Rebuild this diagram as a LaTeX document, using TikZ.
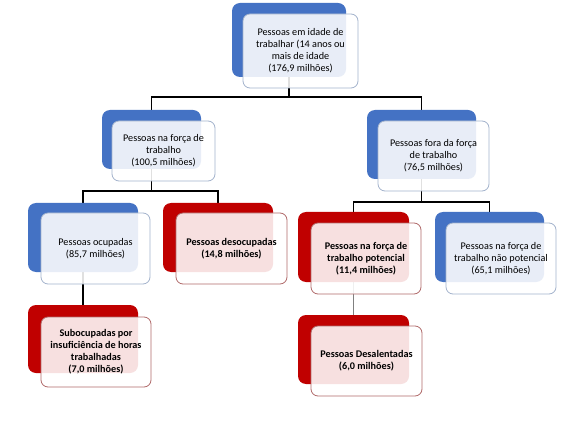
\documentclass[tikz,border=0pt]{standalone}
\usepackage{fontspec}
\setmainfont{Carlito}
\pgfdeclarelayer{edgelayer}
\pgfdeclarelayer{backlayer}
\pgfsetlayers{backlayer,edgelayer,main}
\begin{document}
\begin{tikzpicture}[x=1pt,y=-1pt,
  back/.style={rounded corners=8pt,inner sep=0pt,draw=none},
  backblue/.style={back,fill=bblue},
  backred/.style={back,fill=bred},
  front/.style={rounded corners=7pt,inner sep=0pt,line width=0.8pt,fill=white,fill opacity=0.88,text opacity=1,align=center,font=\fontsize{10.2}{12}\selectfont},
  frontblue/.style={front,draw=fblue},
  frontred/.style={front,draw=fred,font=\fontsize{10.2}{12}\selectfont\bfseries},
  edge/.style={line width=1.2pt,black},
  thinedge/.style={line width=0.9pt,gray}
]
\definecolor{bblue}{HTML}{4472C4}
\definecolor{bred}{HTML}{C00000}
\definecolor{fblue}{HTML}{A3B3CC}
\definecolor{fred}{HTML}{B06A6A}
\begin{pgfonlayer}{backlayer}
\fill[white] (0,0) rectangle (580,430);
\end{pgfonlayer}
\useasboundingbox (0,0) rectangle (580,430);
% back boxes
\node[backblue,minimum width=114pt,minimum height=74pt] (topB) at (289,40) {};
\node[backblue,minimum width=99pt,minimum height=59pt] (lmB) at (151.5,139.5) {};
\node[backblue,minimum width=109pt,minimum height=69pt] (rmB) at (421.5,144.5) {};
\node[backblue,minimum width=110pt,minimum height=69pt] (ocB) at (83,237.5) {};
\node[backred,minimum width=110pt,minimum height=69pt] (deB) at (218,237.5) {};
\node[backred,minimum width=111pt,minimum height=70pt] (poB) at (353.5,247) {};
\node[backblue,minimum width=109pt,minimum height=70pt] (npB) at (489.5,247) {};
\node[backred,minimum width=110pt,minimum height=68pt] (suB) at (83,339) {};
\node[backred,minimum width=111pt,minimum height=69pt] (daB) at (353.5,349.5) {};
% front boxes
\node[frontblue,minimum width=115pt,minimum height=74pt] (topF) at (300.5,51)
  {Pessoas em idade de\\trabalhar (14 anos ou\\mais de idade\\(176,9 milhões)};
\node[frontblue,minimum width=103pt,minimum height=60pt] (lmF) at (163.5,151)
  {Pessoas na força de\\trabalho\\(100,5 milhões)};
\node[frontblue,minimum width=111pt,minimum height=70pt] (rmF) at (433.5,156)
  {Pessoas fora da força\\de trabalho\\(76,5 milhões)};
\node[frontblue,minimum width=109pt,minimum height=71pt] (ocF) at (95.5,248.5)
  {Pessoas ocupadas\\(85,7 milhões)};
\node[frontred,minimum width=111pt,minimum height=71pt] (deF) at (231.5,248.5)
  {Pessoas desocupadas\\(14,8 milhões)};
\node[frontred,minimum width=110pt,minimum height=71pt] (poF) at (366,258.5)
  {Pessoas na força de\\trabalho potencial\\(11,4 milhões)};
\node[frontblue,minimum width=110pt,minimum height=71pt] (npF) at (501,258.5)
  {Pessoas na força de\\trabalho não potencial\\(65,1 milhões)};
\node[frontred,minimum width=110pt,minimum height=70pt] (suF) at (96,352)
  {Subocupadas por\\insuficiência de horas\\trabalhadas\\(7,0 milhões)};
\node[frontred,minimum width=111pt,minimum height=70pt] (daF) at (366.5,361)
  {Pessoas Desalentadas\\(6,0 milhões)};
% connectors, beneath the boxes
\coordinate (j1) at (289,97);
\coordinate (j2) at (151.5,191);
\coordinate (j3) at (421.5,202);
\begin{pgfonlayer}{edgelayer}
\draw[edge] (topB.center) -- (j1) -| (lmB.center);
\draw[edge] (j1) -| (rmB.center);
\draw[edge] (lmB.center) -- (j2) -| (ocB.center);
\draw[edge] (j2) -| (deB.center);
\draw[edge] (rmB.center) -- (j3) -| (poB.center);
\draw[edge] (j3) -| (npB.center);
\draw[edge] (ocB.center) -- (suB.center);
\draw[thinedge] (poB.center) -- (daB.center);
\end{pgfonlayer}
\end{tikzpicture}
\end{document}
